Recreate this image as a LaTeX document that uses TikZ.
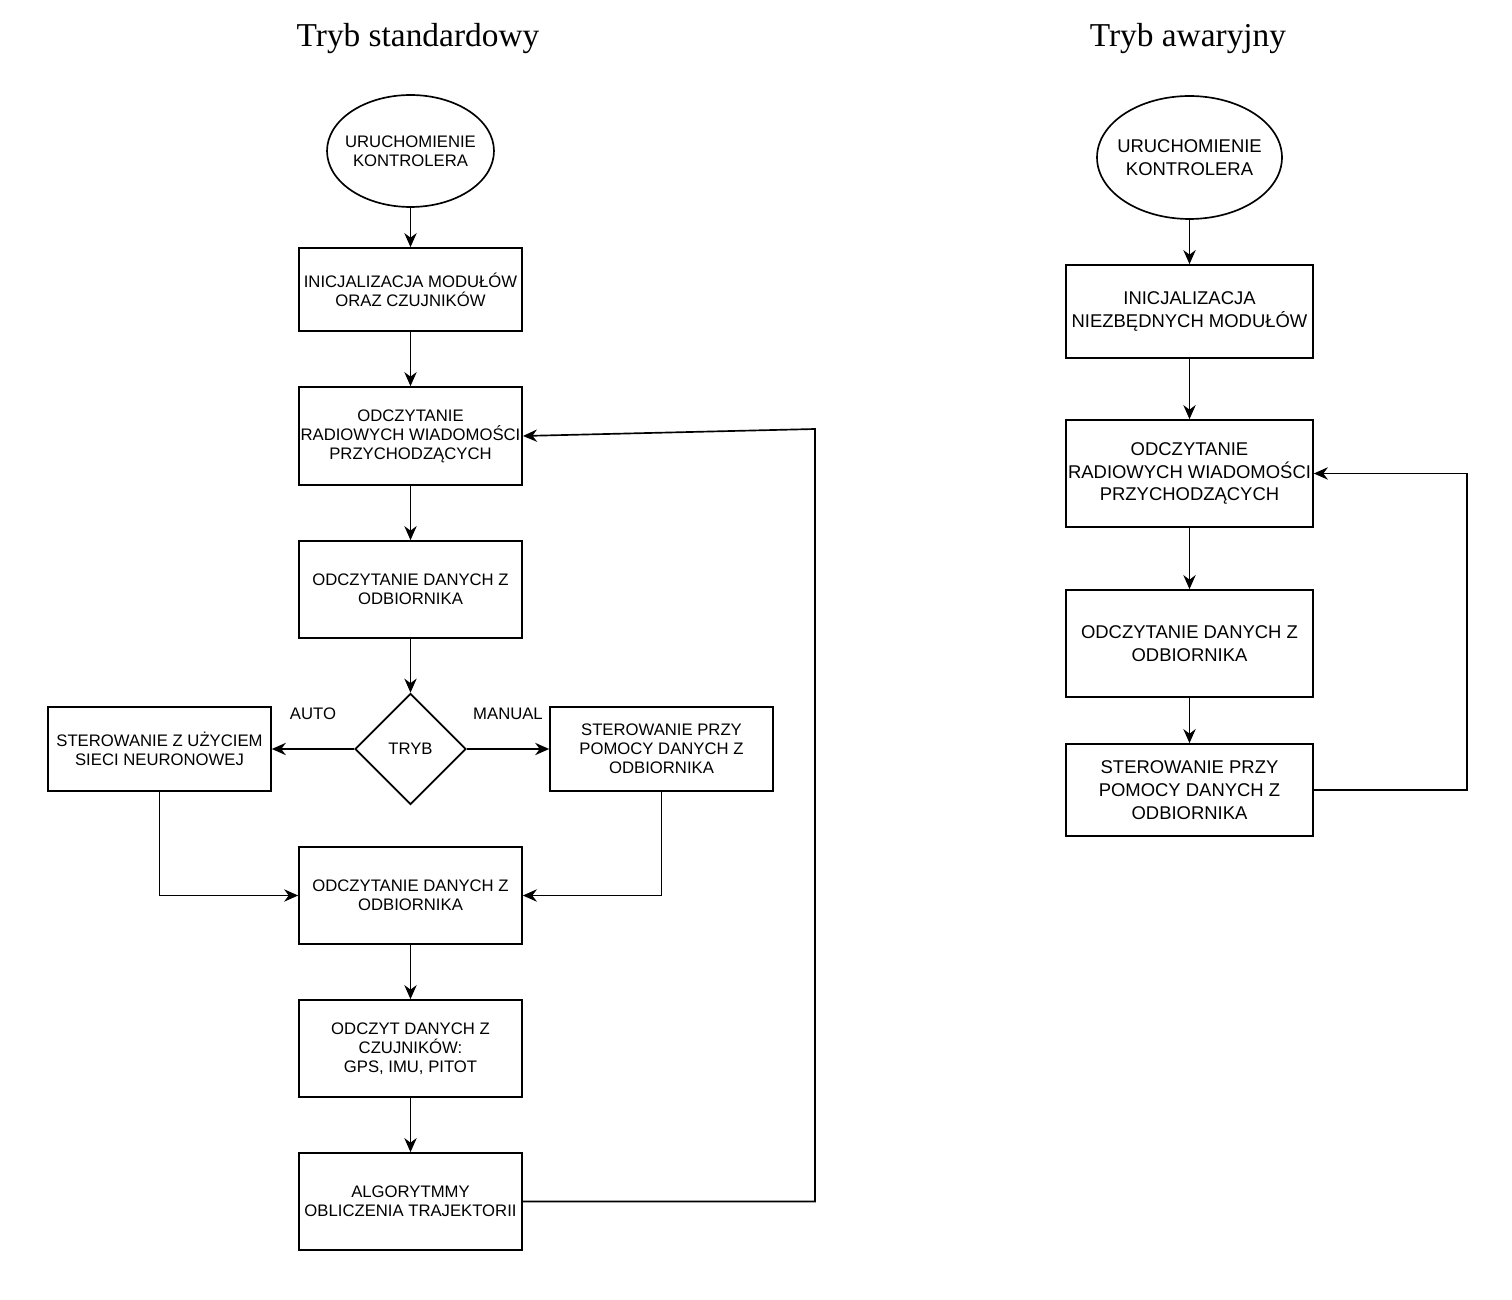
\documentclass[tikz,border=0pt]{standalone}
\usepackage{fontspec}
\setmainfont{Liberation Serif}
\newfontfamily\boxfont{Liberation Sans}
\usetikzlibrary{shapes.geometric,arrows.meta}

\begin{document}
\begin{tikzpicture}[x=0.02cm, y=-0.02cm, line width=0.95pt,
	box/.style={draw, rectangle, align=center, inner sep=1pt, minimum width=4.46cm, font=\boxfont\fontsize{9.5}{10.8}\selectfont},
	bigbox/.style={box, minimum width=4.94cm, font=\boxfont\fontsize{10.5}{13}\selectfont},
	start/.style={draw, ellipse, align=center, inner xsep=-4pt, inner ysep=0pt, minimum width=3.34cm, minimum height=2.24cm, font=\boxfont\fontsize{9.5}{10.8}\selectfont},
	choice/.style={draw, diamond, aspect=1, inner sep=0pt, minimum width=2.22cm, minimum height=2.22cm, font=\boxfont\fontsize{9.5}{10.8}\selectfont},
	link/.style={-{Stealth[length=8pt,width=7pt]}},
	tag/.style={font=\boxfont\fontsize{9.5}{10.8}\selectfont},
	title/.style={font=\fontsize{19}{22}\selectfont}]
			%%%%% START %%%%%
			\useasboundingbox (0,0) rectangle (1512,1300);
			
			\node[title] (titleL) at (418, 39) {Tryb standardowy};
			\node[title] (titleR) at (1188, 39) {Tryb awaryjny};
			
			%% standard mode
			\node[start] (start1) at (410.5, 151) {URUCHOMIENIE\\KONTROLERA};
			\node[box, minimum height=1.66cm] (init1) at (410.5, 289.5) {INICJALIZACJA MODUŁÓW\\ORAZ CZUJNIKÓW};
			\node[box, minimum height=1.96cm] (radio1) at (410.5, 436) {ODCZYTANIE\\RADIOWYCH WIADOMOŚCI\\PRZYCHODZĄCYCH};
			\node[box, minimum height=1.94cm] (odb1) at (410.5, 589.5) {ODCZYTANIE DANYCH Z\\ODBIORNIKA};
			\node[choice] (tryb) at (410.5, 749) {TRYB};
			\node[box, minimum height=1.68cm] (neuro) at (159.5, 749) {STEROWANIE Z UŻYCIEM\\SIECI NEURONOWEJ};
			\node[box, minimum height=1.68cm] (manual) at (661.5, 749) {STEROWANIE PRZY\\POMOCY DANYCH Z\\ODBIORNIKA};
			\node[box, minimum height=1.94cm] (odb2) at (410.5, 895.5) {ODCZYTANIE DANYCH Z\\ODBIORNIKA};
			\node[box, minimum height=1.94cm] (sens) at (410.5, 1048.5) {ODCZYT DANYCH Z\\CZUJNIKÓW:\\GPS, IMU, PITOT};
			\node[box, minimum height=1.94cm] (traj) at (410.5, 1201.5) {ALGORYTMMY\\OBLICZENIA TRAJEKTORII};
			
			\node[tag] (auto) at (313, 714) {AUTO};
			\node[tag] (man) at (508, 714) {MANUAL};
			
			\draw[link] (start1) -- (init1);
			\draw[link] (init1) -- (radio1);
			\draw[link] (radio1) -- (odb1);
			\draw[link] (odb1) -- (tryb);
			\draw[link] (tryb.west) -- (neuro.east);
			\draw[link] (tryb.east) -- (manual.west);
			\draw[link] (neuro.south) |- (odb2.west);
			\draw[link] (manual.south) |- (odb2.east);
			\draw[link] (odb2) -- (sens);
			\draw[link] (sens) -- (traj);
			
			\coordinate (loopA) at (815, 1201.5);
			\coordinate (loopB) at (815, 429);
			\draw[link] (traj.east) -- (loopA) -- (loopB) -- (radio1.east);
			
			%% emergency mode
			\node[start, minimum width=3.7cm, minimum height=2.46cm, font=\boxfont\fontsize{10.5}{13}\selectfont] (start2) at (1189.5, 157.5) {URUCHOMIENIE\\KONTROLERA};
			\node[bigbox, minimum height=1.86cm] (init2) at (1189.5, 311.5) {INICJALIZACJA\\NIEZBĘDNYCH MODUŁÓW};
			\node[bigbox, minimum height=2.14cm] (radio2) at (1189.5, 473.5) {ODCZYTANIE\\RADIOWYCH WIADOMOŚCI\\PRZYCHODZĄCYCH};
			\node[bigbox, minimum height=2.14cm] (odb3) at (1189.5, 643.5) {ODCZYTANIE DANYCH Z\\ODBIORNIKA};
			\node[bigbox, minimum height=1.84cm] (ster2) at (1189.5, 790) {STEROWANIE PRZY\\POMOCY DANYCH Z\\ODBIORNIKA};
			
			\draw[link] (start2) -- (init2);
			\draw[link] (init2) -- (radio2);
			\draw[link] (radio2) -- (odb3);
			\draw[link] (odb3) -- (ster2);
			
			\coordinate (loopC) at (1467, 790);
			\draw[link] (ster2.east) -- (loopC) |- (radio2.east);
			
			%%%%% END %%%%%
\end{tikzpicture}
\end{document}
